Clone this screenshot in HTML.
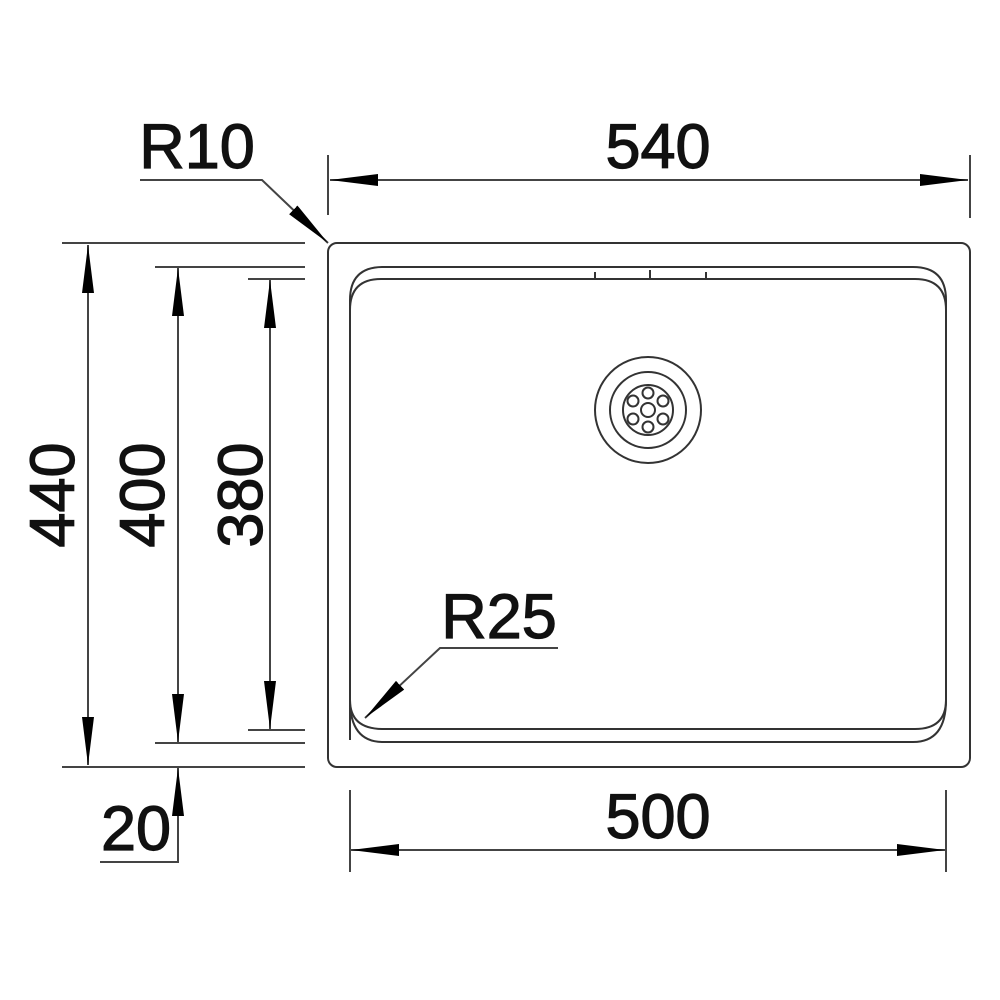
<!DOCTYPE html>
<html><head><style>body{margin:0;background:#fff}svg{display:block}</style></head><body>
<svg width="1000" height="1000" viewBox="0 0 1000 1000" xmlns="http://www.w3.org/2000/svg">
<defs>
<marker id="a" viewBox="0 0 48 12" refX="48" refY="6" markerWidth="48" markerHeight="12" markerUnits="userSpaceOnUse" orient="auto-start-reverse"><path d="M0,0 L48,6 L0,12 Z" fill="#000"/></marker>
</defs>
<g fill="none" stroke="#333" stroke-width="2">
<rect x="328" y="243" width="642" height="524" rx="9"/>
<path d="M350,740 V300 Q350,267 383,267 H913 Q946,267 946,300 V700 Q946,742 913,742 H383 Q350,742 350,700"/>
<path d="M350,310 Q350,279 381,279 H915 Q946,279 946,310 V700 Q946,729 915,729 H383 Q350,729 350,700"/>
<path d="M595,272 v6 M650,270 v10 M706,272 v6"/>
<circle cx="648" cy="410" r="53"/>
<circle cx="648" cy="410" r="38"/>
<circle cx="648" cy="410" r="25"/>
<circle cx="648" cy="410" r="7"/>
<circle cx="648" cy="393" r="5.5"/><circle cx="648" cy="427" r="5.5"/>
<circle cx="633" cy="401" r="5.5"/><circle cx="663" cy="401" r="5.5"/>
<circle cx="633" cy="419" r="5.5"/><circle cx="663" cy="419" r="5.5"/>
</g>
<g fill="none" stroke="#444" stroke-width="2">
<path d="M328,155 V215 M970,155 V218 M350,790 V872 M946,790 V872"/>
<path d="M62,243 H305 M62,767 H305 M155,267 H305 M155,743 H305 M248,279 H305 M248,730 H305"/>
<path d="M100,862 H178 V767"/>
<path d="M140,180 H262 L328,243" marker-end="url(#a)"/>
<path d="M558,648 H440 L365,718" marker-end="url(#a)"/>
</g>
<g stroke="#444" stroke-width="2" marker-start="url(#a)" marker-end="url(#a)">
<line x1="330" y1="180" x2="968" y2="180"/>
<line x1="351" y1="850" x2="945" y2="850"/>
<line x1="88" y1="245" x2="88" y2="765"/>
<line x1="178" y1="268" x2="178" y2="742"/>
<line x1="270" y1="280" x2="270" y2="729"/>
</g>
<line x1="178" y1="815" x2="178" y2="768" stroke="#444" stroke-width="2" marker-end="url(#a)"/>
<g font-family="Liberation Sans, sans-serif" font-size="63" fill="#111" stroke="#111" stroke-width="1.2">
<text x="658" y="168" text-anchor="middle">540</text>
<text x="658" y="838" text-anchor="middle">500</text>
<text x="197" y="168" text-anchor="middle">R10</text>
<text x="499" y="638" text-anchor="middle">R25</text>
<text x="136" y="850" text-anchor="middle">20</text>
<text transform="translate(74,495) rotate(-90)" text-anchor="middle">440</text>
<text transform="translate(164,495) rotate(-90)" text-anchor="middle">400</text>
<text transform="translate(262,495) rotate(-90)" text-anchor="middle">380</text>
</g>
</svg>
</body></html>
